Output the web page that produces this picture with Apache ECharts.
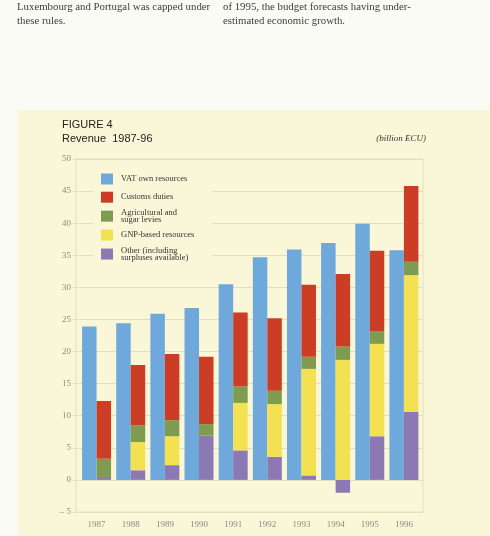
<!DOCTYPE html>
<html>
<head>
<meta charset="utf-8">
<script src="https://cdn.jsdelivr.net/npm/echarts@6/dist/echarts.min.js"></script>
<style>
  html, body { margin: 0; padding: 0; background: #fbfbf5; }
  #panel { position: absolute; left: 18px; top: 110px; width: 472px; height: 426px; background: #faf7d8; }
  #chart { position: absolute; left: 0; top: 0; width: 490px; height: 536px; }
</style>
</head>
<body>
<div id="panel"></div>
<div id="chart"></div>
<script>
// years on the x axis
var years = ['1987', '1988', '1989', '1990', '1991', '1992', '1993', '1994', '1995', '1996'];

// billion ECU
var vatOwn     = [23.9, 24.4, 25.9, 26.8, 30.5, 34.7, 35.9, 36.9, 39.9, 35.8];
var otherRes   = [0.3, 1.5, 2.3, 6.9, 4.6, 3.6, 0.7, -2.0, 6.8, 10.6];
var gnpBased   = [0, 4.4, 4.5, 0, 7.4, 8.2, 16.6, 18.7, 14.4, 21.3];
var agriLevies = [3.0, 2.6, 2.5, 1.8, 2.6, 2.1, 1.9, 2.1, 2.0, 2.1];
var customs    = [9.0, 9.4, 10.3, 10.5, 11.5, 11.3, 11.2, 11.3, 12.5, 11.8];

var legendNames = ['VAT own resources', 'Customs duties', 'Agricultural and\nsugar levies',
                   'GNP-based resources', 'Other (including\nsurpluses available)'];

var serif = '"Liberation Serif", "Times New Roman", serif';
var sans = '"Liberation Sans", Arial, sans-serif';
var gridColor = '#e2dec0';
var panelColor = '#faf7d8';

var myChart = echarts.init(document.getElementById('chart'));

function barSeries(name, stack, data, color) {
    return {
        name: name,
        type: 'bar',
        stack: stack,
        xAxisIndex: 1,
        yAxisIndex: 1,
        barWidth: 14.5,
        barGap: '0%',
        itemStyle: { color: color },
        emphasis: { disabled: true },
        data: data
    };
}

var pageText = { fontFamily: serif, fontSize: 10.8, fontWeight: 'normal', color: '#3c3c3c' };

var option = {
    animation: false,
    backgroundColor: 'transparent',
    title: [
        { text: 'Luxembourg and Portugal was capped under', left: 17, top: 2, padding: 0, textStyle: pageText },
        { text: 'these rules.', left: 17, top: 16, padding: 0, textStyle: pageText },
        { text: 'of 1995, the budget forecasts having under-', left: 223, top: 2, padding: 0, textStyle: pageText },
        { text: 'estimated economic growth.', left: 223, top: 16, padding: 0, textStyle: pageText },
        { text: 'FIGURE 4', left: 62, top: 119, padding: 0,
          textStyle: { fontFamily: sans, fontSize: 11, fontWeight: 'normal', color: '#222' } },
        { text: 'Revenue  1987-96', left: 62, top: 133, padding: 0,
          textStyle: { fontFamily: sans, fontSize: 11, fontWeight: 'normal', color: '#222' } },
        { text: '(billion ECU)', right: 64, top: 134, padding: 0,
          textStyle: { fontFamily: serif, fontSize: 9, fontStyle: 'italic', fontWeight: 'normal', color: '#333' } }
    ],
    legend: {
        orient: 'vertical',
        left: 93,
        top: 165.5,
        padding: [6, 18, 6, 8],
        itemGap: 3.2,
        itemWidth: 12,
        itemHeight: 11,
        icon: 'rect',
        selectedMode: false,
        backgroundColor: panelColor,
        data: legendNames,
        textStyle: {
            fontFamily: serif,
            fontSize: 8.5,
            lineHeight: 7.5,
            height: 15,
            color: '#333',
            padding: [0, 0, 0, 3]
        }
    },
    grid: [
        // frame + horizontal rules
        { left: 76, right: 67, top: 159, bottom: 24, show: true, borderColor: gridColor, borderWidth: 1 },
        // bars
        { left: 79.5, right: 69, top: 159, bottom: 24 }
    ],
    xAxis: [
        { gridIndex: 0, type: 'category', data: years,
          axisLine: { show: false }, axisTick: { show: false }, axisLabel: { show: false } },
        { gridIndex: 1, type: 'category', data: years,
          axisLine: { show: false }, axisTick: { show: false },
          axisLabel: { fontFamily: serif, fontSize: 9, color: '#8a8a82', margin: 8 } }
    ],
    yAxis: [
        { gridIndex: 0, type: 'value', min: -5, max: 50, interval: 5,
          axisLine: { show: false },
          axisTick: { show: true, length: 3, lineStyle: { color: gridColor } },
          splitLine: { lineStyle: { color: gridColor, width: 1 } },
          axisLabel: {
              fontFamily: serif, fontSize: 9, color: '#8a8a82', margin: 5,
              formatter: function (v) { return v < 0 ? '\u2013 ' + Math.abs(v) : v; }
          } },
        { gridIndex: 1, type: 'value', min: -5, max: 50, interval: 5, show: false }
    ],
    series: [
        barSeries('VAT own resources', 'vat', vatOwn, '#6fa9dc'),
        barSeries('Other (including\nsurpluses available)', 'own', otherRes, '#8c79b3'),
        barSeries('GNP-based resources', 'own', gnpBased, '#f4e152'),
        barSeries('Agricultural and\nsugar levies', 'own', agriLevies, '#7f9b52'),
        barSeries('Customs duties', 'own', customs, '#cb3e25')
    ]
};

myChart.setOption(option);
</script>
</body>
</html>
